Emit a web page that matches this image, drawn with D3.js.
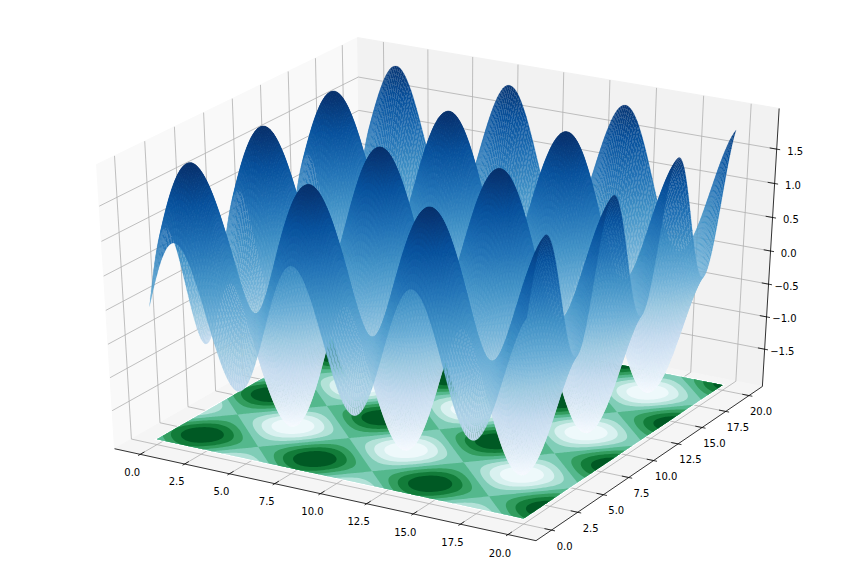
<!DOCTYPE html>
<html>
<head>
<meta charset="utf-8">
<script src="https://cdn.jsdelivr.net/npm/d3@7"></script>
<style>
html, body { margin: 0; padding: 0; background: #fff; }
text { font-family: "DejaVu Sans", sans-serif; font-size: 10px; fill: #000; }
</style>
</head>
<body>
<div id="chart"></div>
<script>
// sample spacing along both floor axes
var gridStep = 0.1;
// height of the wave read along the x axis, one row per unit (surface = waveX + waveY)
var waveX = [0,.100,.199,.296,.389,.479,.565,.644,.717,.783,
	.841,.891,.932,.964,.985,.997,1,.992,.974,.946,
	.909,.863,.808,.746,.675,.598,.516,.427,.335,.239,
	.141,.042,-.058,-.158,-.256,-.351,-.443,-.530,-.612,-.688,
	-.757,-.818,-.872,-.916,-.952,-.978,-.994,-1,-.996,-.982,
	-.959,-.926,-.883,-.832,-.773,-.706,-.631,-.551,-.465,-.374,
	-.279,-.182,-.083,.017,.117,.215,.312,.405,.494,.578,
	.657,.729,.794,.850,.899,.938,.968,.988,.999,.999,
	.989,.970,.941,.902,.855,.798,.734,.663,.585,.501,
	.412,.319,.223,.124,.025,-.075,-.175,-.273,-.366,-.458,
	-.544,-.625,-.700,-.768,-.828,-.880,-.923,-.957,-.981,-.996,
	-1,-.995,-.979,-.954,-.918,-.875,-.822,-.762,-.694,-.619,
	-.537,-.450,-.358,-.264,-.166,-.066,.034,.133,.231,.327,
	.420,.509,.592,.669,.740,.804,.859,.906,.943,.972,
	.991,.999,.998,.987,.966,.935,.896,.846,.791,.723,
	.650,.572,.486,.397,.303,.206,.107,.008,-.092,-.191,
	-.288,-.382,-.473,-.558,-.638,-.712,-.778,-.838,-.888,-.930,
	-.961,-.985,-.997,-1,-.993,-.976,-.949,-.912,-.867,-.812,
	-.751,-.680,-.605,-.520,-.435,-.342,-.246,-.149,-.049,.050,
	.150,.248,.344,.435,.523,.606,.682,.754,.814,.868,
	.913];
// the wave along y reads the same as along x
var waveY = waveX.slice();

var xTicks = [0, 2.5, 5, 7.5, 10, 12.5, 15, 17.5, 20];
var yTicks = [0, 2.5, 5, 7.5, 10, 12.5, 15, 17.5, 20];
var zTicks = [-1.5, -1, -0.5, 0, 0.5, 1, 1.5];
var contourLevels = [-2, -1.5, -1, -0.5, 0, 0.5, 1, 1.5];
var floorZ = -2;

var blues = ["#f7fbff","#deebf7","#c6dbef","#9ecae1","#6baed6","#4292c6","#2171b5","#08519c","#08306b"];
var bugn = ["#f7fcfd","#e5f5f9","#ccece6","#99d8c9","#66c2a4","#41ae76","#238b45","#006d2c","#00441b"];

var width = 864, height = 576;
var xLim = [-1, 21], yLim = [-1, 21], zLim = [-2, 2];

var x = d3.scaleLinear().domain(xLim).range([0, 1]);
var y = d3.scaleLinear().domain(yLim).range([0, 1]);
var z = d3.scaleLinear().domain(zLim).range([0, 1]);
var px = d3.scaleLinear().domain([-0.095, 0.09]).range([0, width]);
var py = d3.scaleLinear().domain([-0.095, 0.09]).range([height, 0]);

var stops = d3.range(9).map(function(i) { return i / 8; });
var surfaceColor = d3.scaleLinear().domain(stops.map(function(t) { return -2 + 4 * t; })).range(blues).clamp(true);
var floorColor = d3.scaleLinear().domain(stops.map(function(t) { return -2 + 4 * t; })).range(bugn).clamp(true);

// camera, elev 30 azim -60 dist 10
var elev = 30 * Math.PI / 180, azim = -60 * Math.PI / 180, dist = 10;
var n = [Math.cos(azim) * Math.cos(elev), Math.sin(azim) * Math.cos(elev), Math.sin(elev)];
var nl = Math.hypot(-n[1], n[0]);
var u = [-n[1] / nl, n[0] / nl, 0];
var v = [n[1] * u[2] - n[2] * u[1], n[2] * u[0] - n[0] * u[2], n[0] * u[1] - n[1] * u[0]];

function project(a, b, c) {
	var p = [x(a) - 0.5, y(b) - 0.5, z(c) - 0.5];
	var un = p[0] * n[0] + p[1] * n[1] + p[2] * n[2];
	var w = dist - un;
	return {
		x: px((p[0] * u[0] + p[1] * u[1] + p[2] * u[2]) / w),
		y: py((p[0] * v[0] + p[1] * v[1] + p[2] * v[2]) / w),
		depth: w
	};
}

function polyPath(points) {
	return "M" + points.map(function(p) { return p.x.toFixed(2) + "," + p.y.toFixed(2); }).join("L") + "Z";
}

var svg = d3.select("#chart").append("svg")
	.attr("width", width)
	.attr("height", height)
	.style("display", "block");

// panes run a little past the axis limits
var dx = (xLim[1] - xLim[0]) / 12, dy = (yLim[1] - yLim[0]) / 12, dz = (zLim[1] - zLim[0]) / 12;
var x0 = xLim[0] - dx / 4, x1 = xLim[1] + dx / 4;
var y0 = yLim[0] - dy / 4, y1 = yLim[1] + dy / 4;
var z0 = zLim[0] - dz / 4, z1 = zLim[1] + dz / 4;

var panes = [
	{ fill: "#f9f9f9", pts: [[x0, y0, z0], [x0, y1, z0], [x0, y1, z1], [x0, y0, z1]] },
	{ fill: "#f2f2f2", pts: [[x0, y1, z0], [x1, y1, z0], [x1, y1, z1], [x0, y1, z1]] },
	{ fill: "#f5f5f5", pts: [[x0, y0, z0], [x1, y0, z0], [x1, y1, z0], [x0, y1, z0]] }
];
svg.append("g").selectAll("path").data(panes).enter().append("path")
	.attr("d", function(d) { return polyPath(d.pts.map(function(p) { return project(p[0], p[1], p[2]); })); })
	.attr("fill", function(d) { return d.fill; })
	.attr("stroke", function(d) { return d.fill; })
	.attr("stroke-width", 1);

// grid lines
var line = d3.line().x(function(d) { return d.x; }).y(function(d) { return d.y; });
var grid = svg.append("g").attr("fill", "none").attr("stroke", "#b0b0b0").attr("stroke-width", 0.8);
xTicks.forEach(function(t) {
	grid.append("path").attr("d", line([project(t, y0, z0), project(t, y1, z0), project(t, y1, z1)]));
});
yTicks.forEach(function(t) {
	grid.append("path").attr("d", line([project(x1, t, z0), project(x0, t, z0), project(x0, t, z1)]));
});
zTicks.forEach(function(t) {
	grid.append("path").attr("d", line([project(x1, y1, t), project(x0, y1, t), project(x0, y0, t)]));
});

// axis lines, ticks and labels
var axes = svg.append("g").attr("fill", "none").attr("stroke", "#000").attr("stroke-width", 0.8);
axes.append("path").attr("d", line([project(x0, y0, z0), project(x1, y0, z0)]));
axes.append("path").attr("d", line([project(x1, y0, z0), project(x1, y1, z0)]));
axes.append("path").attr("d", line([project(x1, y1, z0), project(x1, y1, z1)]));

var labelGap = 0.45;
var labels = svg.append("g").attr("text-anchor", "middle");
function addLabel(pos, t, shiftX, shiftY) {
	var p = project(pos[0], pos[1], pos[2]);
	labels.append("text")
		.attr("x", p.x + shiftX)
		.attr("y", p.y + shiftY)
		.attr("dy", "0.36em")
		.text(d3.format(".1f")(t).replace("-", "\u2212"));
}
xTicks.forEach(function(t) {
	axes.append("path").attr("d", line([project(t, y0 - 0.1 * dy, z0), project(t, y0 + 0.2 * dy, z0)]));
	addLabel([t, y0 - labelGap * dy, z0 - labelGap * dz], t, 1, 2.5);
});
yTicks.forEach(function(t) {
	axes.append("path").attr("d", line([project(x1 + 0.1 * dx, t, z0), project(x1 - 0.2 * dx, t, z0)]));
	addLabel([x1 + labelGap * dx, t, z0 - labelGap * dz], t, -2.5, 3);
});
zTicks.forEach(function(t) {
	axes.append("path").attr("d", line([project(x1 + 0.1 * dx, y1, t), project(x1 - 0.2 * dx, y1, t)]));
	addLabel([x1 + labelGap * dx, y1 + labelGap * dy, t], t, -5, 4);
});

// filled contours on the floor
var zGrid = [];
waveY.forEach(function(wy) {
	waveX.forEach(function(wx) { zGrid.push(wx + wy); });
});
var nx = waveX.length, ny = waveY.length;
var xMax = (nx - 1) * gridStep, yMax = (ny - 1) * gridStep;

function floorPoint(c) {
	var a = Math.max(0, Math.min(xMax, (c[0] - 0.5) * gridStep));
	var b = Math.max(0, Math.min(yMax, (c[1] - 0.5) * gridStep));
	return project(a, b, floorZ);
}

svg.append("path")
	.attr("d", polyPath([project(0, 0, floorZ), project(xMax, 0, floorZ), project(xMax, yMax, floorZ), project(0, yMax, floorZ)]))
	.attr("fill", "#fff")
	.attr("stroke", "#fff")
	.attr("stroke-width", 2);

var contours = d3.contours().size([nx, ny]).thresholds(contourLevels)(zGrid);
svg.append("g").selectAll("path").data(contours).enter().append("path")
	.attr("fill-rule", "evenodd")
	.attr("fill", function(d) { return floorColor(d.value + 0.25); })
	.attr("d", function(d) {
		return d.coordinates.map(function(poly) {
			return poly.map(function(ring) { return polyPath(ring.map(floorPoint)); }).join("");
		}).join("");
	});

// surface quads, far ones first
var quads = [];
for (var j = 0; j < ny - 1; j++) {
	for (var i = 0; i < nx - 1; i++) {
		var corners = [[i, j], [i + 1, j], [i + 1, j + 1], [i, j + 1]].map(function(c) {
			return project(c[0] * gridStep, c[1] * gridStep, waveX[c[0]] + waveY[c[1]]);
		});
		var mean = (waveX[i] + waveX[i + 1]) / 2 + (waveY[j] + waveY[j + 1]) / 2;
		quads.push({ pts: corners, z: mean, depth: d3.mean(corners, function(c) { return c.depth; }) });
	}
}
quads.sort(function(a, b) { return d3.descending(a.depth, b.depth); });

svg.append("g").selectAll("path").data(quads).enter().append("path")
	.attr("d", function(d) { return polyPath(d.pts); })
	.attr("fill", function(d) { return surfaceColor(d.z); })
	.attr("stroke", function(d) { return surfaceColor(d.z); })
	.attr("stroke-width", 0.12);
</script>
</body>
</html>
